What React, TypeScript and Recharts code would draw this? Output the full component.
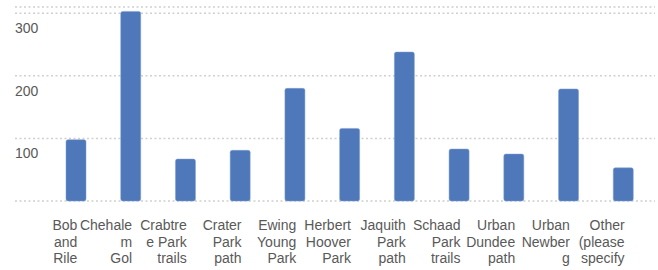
import { BarChart, Bar, XAxis, YAxis, CartesianGrid } from 'recharts';

// tick labels as shown (Excel truncated + wrapped them)
const categories = [
  'Bob\nand\nRile',
  'Chehale\nm\nGol',
  'Crabtre\ne Park\ntrails',
  'Crater\nPark\npath',
  'Ewing\nYoung\nPark',
  'Herbert\nHoover\nPark',
  'Jaquith\nPark\npath',
  'Schaad\nPark\ntrails',
  'Urban\nDundee\npath',
  'Urban\nNewber\ng',
  'Other\n(please\nspecify',
];
const counts = [98, 303, 67, 81, 180, 116, 238, 83, 75, 179, 53];
const yTicks = [0, 100, 200, 300];

const data = categories.map((name, i) => ({ name, count: counts[i] }));

const FONT = '"Liberation Sans", Arial, sans-serif';
const TEXT = '#595959';

function XTick({ x, y, payload }: any) {
  const lines = String(payload.value).split('\n');
  return (
    <text x={x + 1} y={y} textAnchor="end" fill={TEXT} fontSize={14} fontFamily={FONT}>
      {lines.map((l, i) => (
        <tspan key={i} x={x + 1} y={y + 29 + i * 16.5}>{l}</tspan>
      ))}
    </text>
  );
}

function YTick({ x, y, payload }: any) {
  if (payload.value === 0) return null;
  return (
    <text x={x} y={y + 20} textAnchor="start" fill={TEXT} fontSize={14} fontFamily={FONT}>
      {payload.value}
    </text>
  );
}

export default function App() {
  return (
    <div style={{ position: 'absolute', left: 0, top: 0, width: 658, height: 270, background: '#fff' }}>
      <BarChart width={658} height={270} data={data} margin={{ top: 7, right: 3, bottom: 0, left: 14 }}>
        <CartesianGrid vertical={false} stroke="#d0d0d0" strokeWidth={1.5} strokeDasharray="2 2.5" />
        <XAxis
          dataKey="name"
          interval={0}
          height={69}
          axisLine={false}
          tickLine={false}
          tickSize={0}
          tickMargin={0}
          padding={{ left: 34, right: 4 }}
          tick={<XTick />}
        />
        <YAxis
          domain={[0, 310]}
          ticks={yTicks}
          width={1}
          axisLine={false}
          tickLine={false}
          tickSize={0}
          tickMargin={0}
          tick={<YTick />}
        />
        <Bar dataKey="count" fill="#4e78b9" stroke="#7f9fd0" strokeWidth={0.5} barSize={20} radius={2} isAnimationActive={false} />
      </BarChart>
    </div>
  );
}
